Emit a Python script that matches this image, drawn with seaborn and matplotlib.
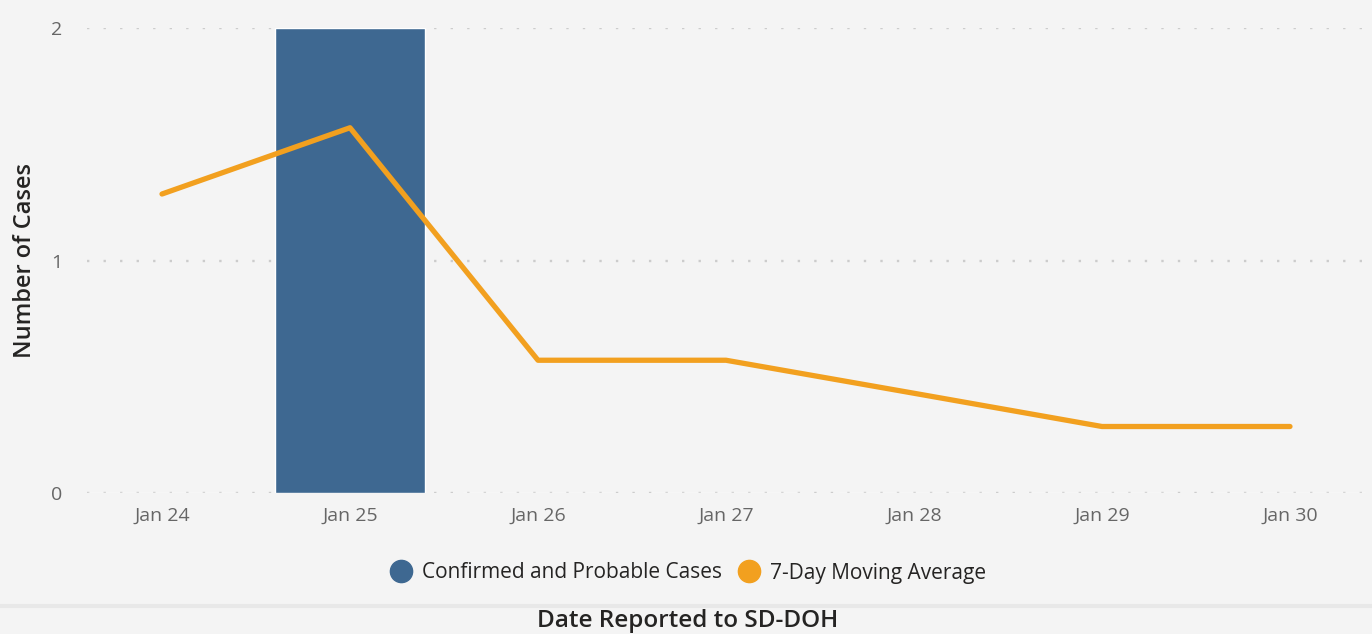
import matplotlib
matplotlib.use("Agg")
import matplotlib.pyplot as plt
import seaborn as sns
from matplotlib.lines import Line2D

# Data
dates = ["Jan 24", "Jan 25", "Jan 26", "Jan 27", "Jan 28", "Jan 29", "Jan 30"]
cases = [0, 2, 0, 0, 0, 0, 0]
moving_avg = [1.286, 1.571, 0.571, 0.571, 0.429, 0.286, 0.286]

bg = "#f4f4f4"
bar_color = "#3e6891"
line_color = "#f2a01f"

sns.set_style("white")
plt.rcParams["font.family"] = ["Open Sans", "DejaVu Sans"]

fig = plt.figure(figsize=(13.72, 6.34), dpi=100, facecolor=bg)
ax = fig.add_axes([87 / 1372, (634 - 493) / 634, (1368 - 87) / 1372, 465 / 634])
ax.set_facecolor(bg)

sns.barplot(x=dates, y=cases, color=bar_color, width=0.8, saturation=1, ax=ax)
sns.lineplot(x=dates, y=moving_avg, color=line_color, linewidth=3.8, sort=False, ax=ax)

ax.set_xlim(-0.399, 6.415)
ax.set_ylim(0, 2)
ax.set_yticks([0, 1, 2])
ax.grid(axis="y", color="#cccccc", linestyle=(0, (1, 6)), linewidth=1.7)
ax.set_axisbelow(True)
for s in ax.spines.values():
    s.set_visible(False)

ax.tick_params(axis="both", length=0, labelsize=14, colors="#666666")
ax.tick_params(axis="x", pad=10)
ax.tick_params(axis="y", pad=18)
ax.set_xlabel("")
ax.set_ylabel("Number of Cases", fontsize=17, color="#252423", labelpad=10,
              fontweight="semibold")

handles = [
    Line2D([], [], marker="o", linestyle="", markersize=16, color=bar_color),
    Line2D([], [], marker="o", linestyle="", markersize=16, color=line_color),
]
fig.legend(handles, ["Confirmed and Probable Cases", "7-Day Moving Average"],
           loc="center", bbox_to_anchor=(683 / 1372, 1 - 573 / 634), ncol=2,
           frameon=False, fontsize=15, handletextpad=0.0, columnspacing=0.3,
           labelcolor="#252423")

# separator band and bottom axis title
fig.add_artist(Line2D([0, 1], [1 - 606 / 634, 1 - 606 / 634], color="#e8e8e8",
                      linewidth=3, transform=fig.transFigure))
fig.text(688 / 1372, 1 - 621 / 634, "Date Reported to SD-DOH", ha="center",
         va="center", fontsize=17.5, color="#252423", fontweight="semibold")

fig.savefig("out.png", dpi=100, facecolor=bg)
